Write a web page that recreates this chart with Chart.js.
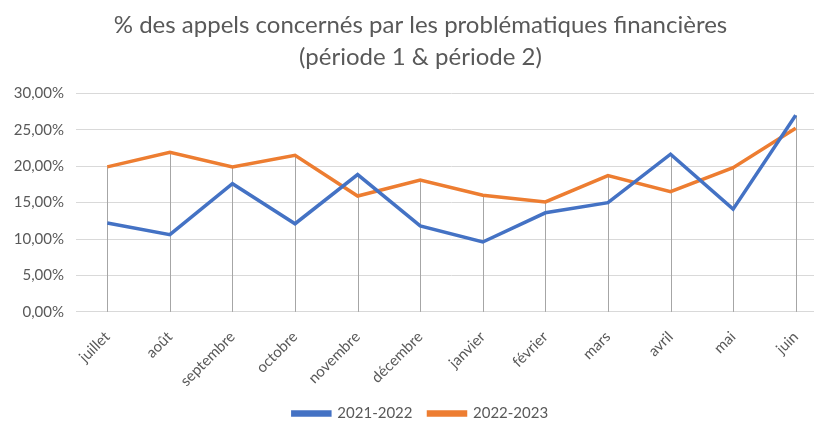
<!DOCTYPE html>
<html>
<head>
<meta charset="utf-8">
<script src="https://cdn.jsdelivr.net/npm/chart.js@4"></script>
<style>
  html, body { margin: 0; padding: 0; background: #fff; overflow: hidden; }
  canvas { display: block; }
</style>
</head>
<body>
<canvas id="graficoAppels" width="848" height="421"></canvas>
<script>
const mois = ['juillet', 'août', 'septembre', 'octobre', 'novembre', 'décembre', 'janvier', 'février', 'mars', 'avril', 'mai', 'juin'];
const periode1 = [12.2, 10.6, 17.6, 12.1, 18.85, 11.8, 9.6, 13.6, 15.0, 21.65, 14.1, 27.0];
const periode2 = [19.9, 21.9, 19.9, 21.5, 15.9, 18.1, 16.0, 15.1, 18.7, 16.5, 19.8, 25.2];
const titre = ['% des appels concernés par les problématiques financières', '(période 1 & période 2)'];

const gris = '#595959';
const police = 'Lato';

// lignes verticales du point le plus haut jusqu'à l'axe
const dropLines = {
    id: 'dropLines',
    beforeDatasetsDraw(chart) {
        const { ctx, scales: { x, y } } = chart;
        ctx.save();
        ctx.strokeStyle = '#a6a6a6';
        ctx.lineWidth = 1;
        mois.forEach((m, i) => {
            const top = Math.max(...chart.data.datasets.map(d => d.data[i]));
            const px = Math.round(x.getPixelForValue(i)) + 0.5;
            ctx.beginPath();
            ctx.moveTo(px, y.getPixelForValue(top));
            ctx.lineTo(px, y.getPixelForValue(0));
            ctx.stroke();
        });
        ctx.restore();
    }
};

const ctx = document.getElementById('graficoAppels').getContext('2d');
new Chart(ctx, {
    type: 'line',
    data: {
        labels: mois,
        datasets: [
            { label: '2021-2022', data: periode1, borderColor: '#4472C4', backgroundColor: '#4472C4', borderWidth: 3.5, pointRadius: 0, tension: 0 },
            { label: '2022-2023', data: periode2, borderColor: '#ED7D31', backgroundColor: '#ED7D31', borderWidth: 3.5, pointRadius: 0, tension: 0 }
        ]
    },
    options: {
        responsive: false,
        animation: false,
        layout: { padding: { left: 14, right: 21, bottom: -10 } },
        plugins: {
            title: {
                display: true,
                text: titre,
                color: gris,
                font: { family: police, size: 24, weight: 'normal', lineHeight: 1.35 },
                padding: { top: 9, bottom: 19.5 }
            },
            legend: {
                position: 'bottom',
                labels: {
                    color: gris,
                    font: { family: police, size: 15 },
                    boxWidth: 37,
                    boxHeight: 3,
                    padding: 16
                }
            },
            tooltip: { enabled: false }
        },
        scales: {
            x: {
                offset: true,
                grid: { display: false },
                border: { display: true, color: '#d9d9d9' },
                ticks: {
                    color: gris,
                    font: { family: police, size: 15 },
                    minRotation: 45,
                    maxRotation: 45,
                    labelOffset: 0,
                    padding: 8
                },
                afterFit: scale => { scale.height -= 8; }
            },
            y: {
                min: 0,
                max: 30,
                grid: { color: '#d9d9d9', drawTicks: false },
                border: { display: false },
                ticks: {
                    stepSize: 5,
                    color: gris,
                    font: { family: police, size: 15 },
                    padding: 12,
                    callback: v => v.toFixed(2).replace('.', ',') + '%'
                },
                afterFit: scale => { scale.width = 62; }
            }
        }
    },
    plugins: [dropLines]
});
</script>
</body>
</html>
